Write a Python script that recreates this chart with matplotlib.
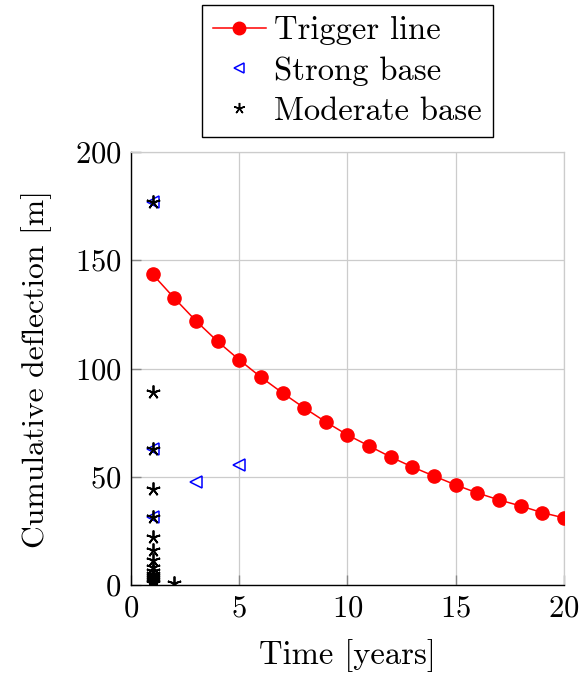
import matplotlib.pyplot as plt

# Trigger line
trig_x = list(range(1, 21))
trig_y = [143.5, 132.5, 122, 112.5, 104, 96, 88.7, 81.8, 75.3, 69.3,
          64.2, 59.1, 54.5, 50.3, 46.2, 42.5, 39.3, 36.5, 33.4, 31]

# Strong base
strong_x = [1, 1, 1, 3, 5]
strong_y = [177, 63, 31.5, 47.4, 55.3]

# Moderate base
mod_x = [1, 1, 1, 1, 1, 1, 1, 1, 1, 1, 1, 1, 1, 1, 1, 1, 2]
mod_y = [177, 89, 63, 44.2, 31.5, 22.3, 16.2, 11.5, 8.5, 6.5, 5, 4, 3, 2.2, 1.5, 1, 0.8]

plt.rcParams['font.family'] = 'cmr10'
plt.rcParams['mathtext.fontset'] = 'cm'
plt.rcParams['axes.formatter.use_mathtext'] = True

fig = plt.figure(figsize=(5.81, 6.73), dpi=100)
ax = fig.add_axes([0.2255, 0.1308, 0.7452, 0.6433])

ax.plot(trig_x, trig_y, color='red', marker='o', markersize=9.5, linewidth=1.1,
        label='Trigger line', zorder=3)
ax.plot(strong_x, strong_y, linestyle='none', marker='<', markersize=9,
        markerfacecolor='none', markeredgecolor='blue', markeredgewidth=1.1,
        label='Strong base', zorder=3)
# five-armed asterisk like the pgfplots star
ax.plot(mod_x, mod_y, linestyle='none', marker=(5, 2, 0), markersize=10,
        color='black', markeredgewidth=1.3, label='Moderate base', zorder=4)

ax.set_xlim(0, 20)
ax.set_ylim(0, 200)
ax.set_xticks([0, 5, 10, 15, 20])
ax.set_yticks([0, 50, 100, 150, 200])
ax.grid(True, color='#cccccc', linewidth=0.9)
ax.set_axisbelow(True)

for s in ['top', 'right']:
    ax.spines[s].set_color('#cccccc')
    ax.spines[s].set_linewidth(0.9)
for s in ['left', 'bottom']:
    ax.spines[s].set_color('black')
    ax.spines[s].set_linewidth(1.0)

ax.tick_params(direction='in', length=7, width=1.0, color='#888888',
               labelsize=22, pad=7)

ax.set_xlabel('Time [years]', fontsize=23.5, labelpad=12)
ax.set_ylabel('Cumulative deflection [m]', fontsize=22.8, labelpad=16)

leg = ax.legend(loc='lower center', bbox_to_anchor=(0.598, 0.7964),
                bbox_transform=fig.transFigure, fontsize=23.5, fancybox=False,
                edgecolor='black', framealpha=1, markerscale=1.0,
                handlelength=1.6, borderpad=0.35, labelspacing=0.33,
                handletextpad=0.25, borderaxespad=0)
leg.get_frame().set_linewidth(1.0)
hs = leg.legend_handles
hs[0].set_markersize(9)
hs[1].set_markersize(7.5)
hs[2].set_markersize(8)
hs[2].set_markeredgewidth(1.1)

fig.savefig('out.png', dpi=100)
